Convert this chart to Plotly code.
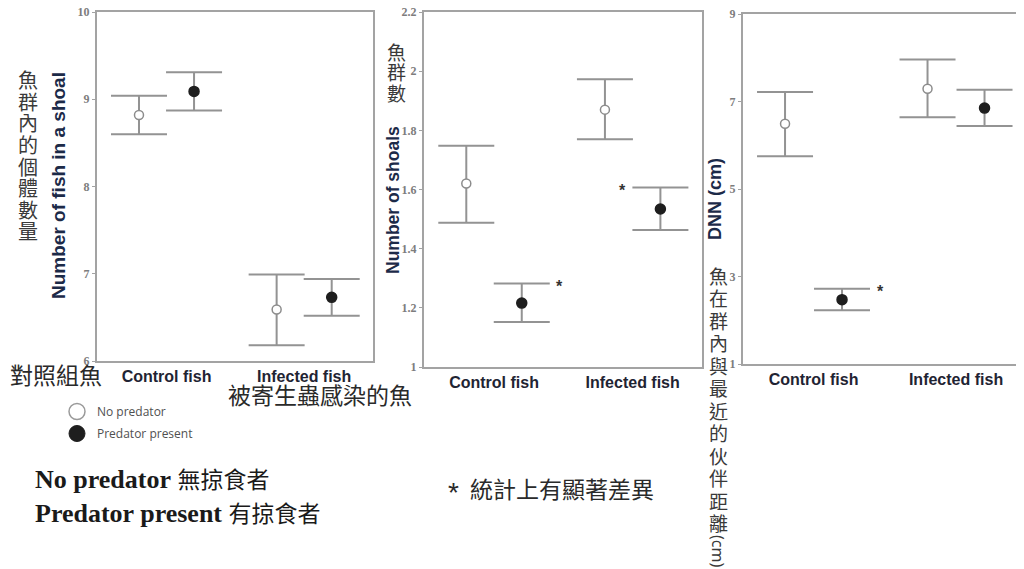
import plotly.graph_objects as go

# page body has an 8px default margin: figure is drawn 8px right / 8px down
OX, OY = 8, 8
W, H = 1016, 561

# ---------------- data ----------------
categories = ["Control fish", "Infected fish"]
conditions = ["No predator", "Predator present"]

fish_no_pred_mean = [8.82, 6.59]
fish_no_pred_upper = [9.04, 6.99]
fish_no_pred_lower = [8.60, 6.18]
fish_pred_mean = [9.09, 6.73]
fish_pred_upper = [9.31, 6.94]
fish_pred_lower = [8.87, 6.52]

shoals_no_pred_mean = [1.62, 1.87]
shoals_no_pred_upper = [1.748, 1.973]
shoals_no_pred_lower = [1.488, 1.77]
shoals_pred_mean = [1.216, 1.534]
shoals_pred_upper = [1.282, 1.607]
shoals_pred_lower = [1.152, 1.463]

dnn_no_pred_mean = [6.49, 7.29]
dnn_no_pred_upper = [7.22, 7.96]
dnn_no_pred_lower = [5.75, 6.64]
dnn_pred_mean = [2.47, 6.85]
dnn_pred_upper = [2.72, 7.27]
dnn_pred_lower = [2.23, 6.44]

fish_ticks = [6, 7, 8, 9, 10]
shoal_ticks = [1, 1.2, 1.4, 1.6, 1.8, 2, 2.2]
shoal_tick_text = ["1", "1.2", "1.4", "1.6", "1.8", "2", "2.2"]
dnn_ticks = [1, 3, 5, 7, 9]

# significance markers: (panel, category index, side)
signif = [(2, 0, 1), (2, 1, -1), (3, 0, 1)]

y_titles = ["Number of fish in a shoal", "Number of shoals", "DNN (cm)"]

# ---------------- helpers ----------------
def px(x):
    return (x - OX) / W

def py(y):
    return 1 - (y - OY) / H

OFFSET = 0.2
ERR_COLOR = "#939393"
AXIS_COLOR = "#a3a3a3"

fig = go.Figure()

panels = [
    dict(idx=1, np_m=fish_no_pred_mean, np_u=fish_no_pred_upper, np_l=fish_no_pred_lower,
         p_m=fish_pred_mean, p_u=fish_pred_upper, p_l=fish_pred_lower),
    dict(idx=2, np_m=shoals_no_pred_mean, np_u=shoals_no_pred_upper, np_l=shoals_no_pred_lower,
         p_m=shoals_pred_mean, p_u=shoals_pred_upper, p_l=shoals_pred_lower),
    dict(idx=3, np_m=dnn_no_pred_mean, np_u=dnn_no_pred_upper, np_l=dnn_no_pred_lower,
         p_m=dnn_pred_mean, p_u=dnn_pred_upper, p_l=dnn_pred_lower),
]

for p in panels:
    k = p["idx"]
    xa = "x" if k == 1 else f"x{k}"
    ya = "y" if k == 1 else f"y{k}"
    for cond, m, u, l, off, sym_fill, line_col, sz in [
        (conditions[0], p["np_m"], p["np_u"], p["np_l"], -OFFSET, "white", "#8c8c8c", 9),
        (conditions[1], p["p_m"], p["p_u"], p["p_l"], OFFSET, "#1e1e1e", "#1e1e1e", 10),
    ]:
        xs = [i + off for i in range(len(categories))]
        fig.add_trace(go.Scatter(
            x=xs, y=m, mode="markers", xaxis=xa, yaxis=ya, showlegend=False,
            name=cond,
            marker=dict(size=sz, color=sym_fill, line=dict(color=line_col, width=1.5)),
            error_y=dict(type="data", symmetric=False,
                         array=[uu - mm for uu, mm in zip(u, m)],
                         arrayminus=[mm - ll for mm, ll in zip(m, l)],
                         color=ERR_COLOR, thickness=2, width=28),
        ))

# legend-only traces
fig.add_trace(go.Scatter(x=[None], y=[None], mode="markers", name=conditions[0], legendgroup="a",
                         marker=dict(size=18, color="white", line=dict(color="#9a9a9a", width=1.5))))
fig.add_trace(go.Scatter(x=[None], y=[None], mode="markers", name=conditions[1], legendgroup="b",
                         marker=dict(size=19, color="#1e1e1e", line=dict(color="#1e1e1e", width=1))))

# ---------------- axes ----------------
doms = {
    1: dict(x=[px(97), px(373)], y=[py(361), py(12)], xr=[-0.505, 1.50], yr=[6, 10],
            tv=fish_ticks, tt=[str(t) for t in fish_ticks]),
    2: dict(x=[px(424), px(702)], y=[py(367), py(12)], xr=[-0.505, 1.50], yr=[1, 2.2],
            tv=shoal_ticks, tt=shoal_tick_text),
    3: dict(x=[px(743), 1.0], y=[py(364), py(14)], xr=[-0.495, 1.477], yr=[1, 9],
            tv=dnn_ticks, tt=[str(t) for t in dnn_ticks]),
}

layout_axes = {}
for k, d in doms.items():
    xk = "xaxis" if k == 1 else f"xaxis{k}"
    yk = "yaxis" if k == 1 else f"yaxis{k}"
    layout_axes[xk] = dict(
        domain=d["x"], range=d["xr"], anchor="y" if k == 1 else f"y{k}",
        tickvals=[0, 1], ticktext=categories, ticks="",
        tickfont=dict(family="Liberation Sans", size=16, color="#1f2433", weight="bold"),
        showgrid=False, zeroline=False, showline=True, linecolor=AXIS_COLOR, linewidth=2,
        mirror=True, fixedrange=True, ticklabeloverflow="allow", automargin=False,
    )
    layout_axes[yk] = dict(
        domain=d["y"], range=d["yr"], anchor="x" if k == 1 else f"x{k}",
        tickvals=d["tv"], ticktext=d["tt"], ticks="outside", ticklen=3, tickcolor=AXIS_COLOR,
        tickfont=dict(family="Liberation Serif", size=12, color="#7d7d7d", weight="bold"),
        showgrid=False, zeroline=False, showline=True, linecolor=AXIS_COLOR, linewidth=2,
        mirror=(k != 3), fixedrange=True, ticklabeloverflow="allow", automargin=False,
    )

fig.update_layout(
    width=W, height=H, margin=dict(l=0, r=0, t=0, b=0, pad=0, autoexpand=False),
    paper_bgcolor="white", plot_bgcolor="white",
    showlegend=True,
    legend=dict(x=px(57), y=py(397), xanchor="left", yanchor="top",
                font=dict(family="Open Sans", size=12, color="#505050"),
                bgcolor="rgba(0,0,0,0)", tracegroupgap=3, itemsizing="trace"),
    **layout_axes,
)

ann = []

def add_text(text, x, y, size, family, color="#2a2a2a", xanchor="center", angle=0):
    ann.append(dict(text=text, x=px(x), y=py(y), xref="paper", yref="paper",
                    xanchor=xanchor, yanchor="middle", textangle=angle, showarrow=False,
                    font=dict(family=family, size=size, color=color)))

# y-axis titles
title_pos = [(59, 186, 19), (393, 200, 17.5), (715, 199, 18)]
for t, (xp, yp, fs) in zip(y_titles, title_pos):
    add_text(f"<b>{t}</b>", xp, yp, fs, "Liberation Sans", color="#1c2a48", angle=-90)

# vertical Chinese labels (one glyph per line)
CJK = "Noto Sans CJK TC"
def vertical(text, xc, ytop, pitch, size):
    for i, ch in enumerate(text):
        add_text(ch, xc, ytop + pitch * (i + 0.5), size, CJK, color="#3a3a3a")

vertical("魚群內的個體數量", 28, 69, 21.6, 20)
vertical("魚群數", 396, 41, 20.5, 19)
vertical("魚在群內與最近的伙伴距離", 718, 264, 22.5, 19)
add_text("(cm)", 718, 551, 16, "Noto Sans", color="#3a3a3a", angle=90)

# horizontal Chinese labels
add_text("對照組魚", 8, 374, 23, CJK, xanchor="left")
add_text("被寄生蟲感染的魚", 226, 394, 23, CJK, xanchor="left")

SER = "Liberation Serif, Noto Sans CJK TC"
add_text("<b>No predator</b> <span style='font-size:23px'>無掠食者</span>", 33, 479, 26, SER,
         color="#1a1a1a", xanchor="left")
add_text("<b>Predator present</b> <span style='font-size:23px'>有掠食者</span>", 33, 513, 26, SER,
         color="#1a1a1a", xanchor="left")
add_text("*", 453, 492, 28, "Liberation Sans", xanchor="center")
add_text("統計上有顯著差異", 468, 488, 23, CJK, xanchor="left")

# significance asterisks next to predator-present means
upper_by_panel = {2: shoals_pred_upper, 3: dnn_pred_upper}
for k, ci, side in signif:
    ann.append(dict(text="<b>*</b>", x=ci + OFFSET, y=upper_by_panel[k][ci],
                    xref=f"x{k}", yref=f"y{k}", showarrow=False, xshift=38 * side, yshift=-3,
                    font=dict(family="Liberation Sans", size=16, color="#333333")))

fig.update_layout(annotations=ann)

fig.write_html("out.html")
